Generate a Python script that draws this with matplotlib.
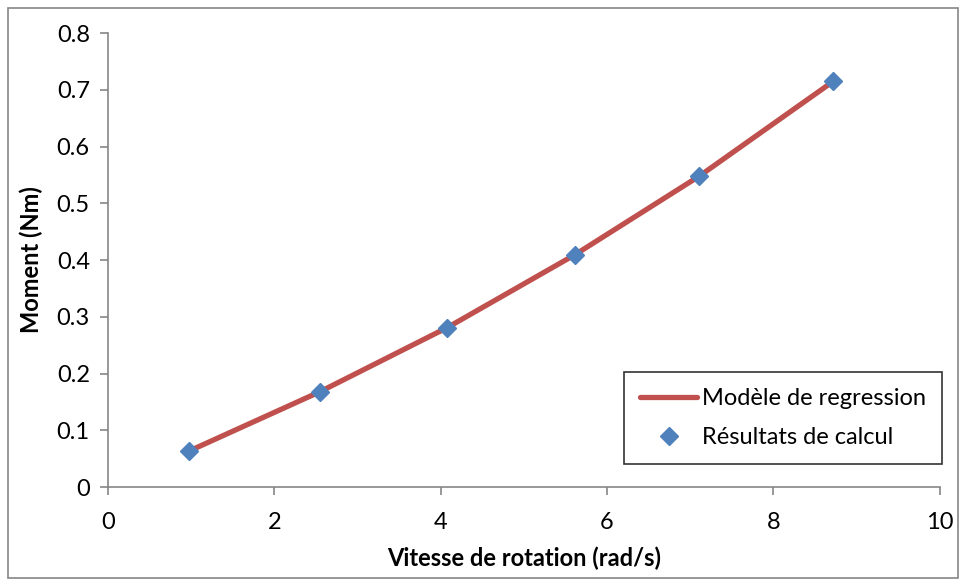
import matplotlib.pyplot as plt
from matplotlib.patches import Rectangle

# data
vitesse = [0.97, 2.55, 4.08, 5.61, 7.11, 8.72]
moment_calcul = [0.063, 0.168, 0.281, 0.409, 0.548, 0.715]
moment_modele = [0.063, 0.168, 0.281, 0.409, 0.548, 0.715]

x_ticks = [0, 2, 4, 6, 8, 10]
y_ticks = [0, 0.1, 0.2, 0.3, 0.4, 0.5, 0.6, 0.7, 0.8]

plt.rcParams["font.family"] = ["Lato", "DejaVu Sans"]
FS = 17

fig = plt.figure(figsize=(9.63, 5.80), dpi=100)
ax = fig.add_axes([0.112, 0.1603, 0.864, 0.7828])

ax.plot(vitesse, moment_modele, color="#c0504d", lw=3.8, solid_capstyle="round",
        label="Modèle de regression", zorder=2)
ax.plot(vitesse, moment_calcul, ls="none", marker="D", ms=9.5, color="#4f81bd",
        markeredgecolor="#4f81bd", label="Résultats de calcul", zorder=3)

ax.set_xlim(0, 10)
ax.set_ylim(0, 0.8)
ax.set_xticks(x_ticks)
ax.set_xticklabels([f"{t:g}" for t in x_ticks])
ax.set_yticks(y_ticks)
ax.set_yticklabels([f"{t:g}" for t in y_ticks])
ax.tick_params(axis="both", labelsize=FS, color="#868686", length=6, width=1.2, direction="out")
ax.tick_params(axis="x", pad=12)
ax.tick_params(axis="y", pad=7)

for side in ["top", "right"]:
    ax.spines[side].set_visible(False)
for side in ["left", "bottom"]:
    ax.spines[side].set_color("#868686")
    ax.spines[side].set_linewidth(1.2)

ax.set_xlabel("Vitesse de rotation (rad/s)", fontsize=FS, fontweight="bold", labelpad=10)
ax.set_ylabel("Moment (Nm)", fontsize=FS, fontweight="bold", labelpad=10)

leg = ax.legend(loc="lower right", bbox_to_anchor=(1.003, 0.05), fontsize=FS,
                frameon=True, fancybox=False, edgecolor="black", handlelength=2.4,
                handletextpad=0.2, borderpad=0.7, labelspacing=0.75, borderaxespad=0)
leg.get_frame().set_linewidth(1.2)

# outer chart border
fig.patches.append(Rectangle((0.008, 0.003), 0.987, 0.984, transform=fig.transFigure,
                             fill=False, edgecolor="#868686", linewidth=1.2))

fig.savefig("out.png", dpi=100)
